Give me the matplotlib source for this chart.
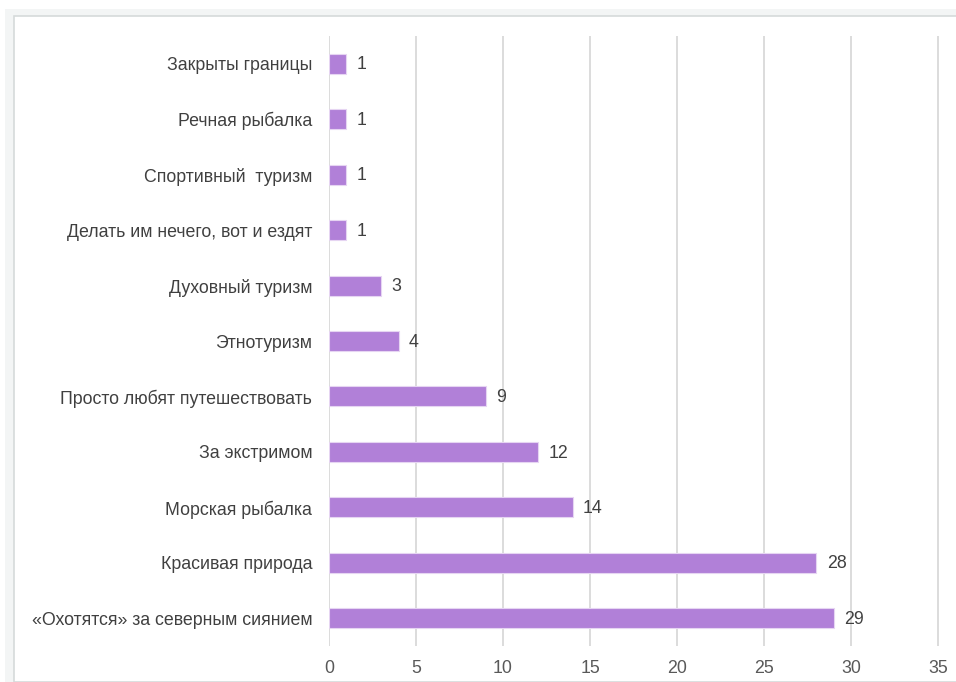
import matplotlib
matplotlib.use("Agg")
import matplotlib.pyplot as plt
from matplotlib.patches import Rectangle

categories = ["«Охотятся» за северным сиянием", "Красивая природа", "Морская рыбалка",
              "За экстримом", "Просто любят путешествовать", "Этнотуризм", "Духовный туризм",
              "Делать им нечего, вот и ездят", "Спортивный  туризм", "Речная рыбалка",
              "Закрыты границы"]
values = [29, 28, 14, 12, 9, 4, 3, 1, 1, 1, 1]
xticks = [0, 5, 10, 15, 20, 25, 30, 35]

plt.rcParams['font.family'] = ['Liberation Sans', 'DejaVu Sans']
W, H = 956, 682
fig = plt.figure(figsize=(W/100, H/100), dpi=100)
fig.patch.set_facecolor('white')
# outer frame
fig.patches.append(Rectangle((5/W, 0), 1, 1 - 9/H, transform=fig.transFigure,
                             facecolor='#F3F5F5', edgecolor='none', zorder=-5))
fig.patches.append(Rectangle((14/W, 0), 1, 1 - 16/H, transform=fig.transFigure,
                             facecolor='white', edgecolor='#D5DADA', linewidth=1.2, zorder=-4))

ax = fig.add_axes([329/W, 1 - 646/H, (939-329)/W, 610/H])
ax.set_zorder(2)
ax.set_facecolor('none')
y = list(range(len(categories)))
ax.barh(y, values, height=0.36, color='#B180D8', edgecolor='#E6D5F2', linewidth=0.8, zorder=3)
for yi, v in zip(y, values):
    ax.text(v + 0.6, yi - 0.02, str(v), va='center', ha='left', fontsize=12.8, color='#404040')
ax.set_xlim(0, 35.05)
ax.set_ylim(-0.5, 10.5)
ax.set_xticks(xticks)
ax.set_yticks(y)
ax.set_yticklabels(categories)
ax.grid(axis='x', color='#D9D9D9', linewidth=1.3, zorder=0)
for s in ax.spines.values():
    s.set_visible(False)
ax.tick_params(axis='both', length=0, labelsize=12.8, labelcolor='#595959')
ax.tick_params(axis='y', pad=12, labelcolor='#404040')
ax.tick_params(axis='x', pad=10)
fig.savefig('out.png', dpi=100, facecolor='white')
